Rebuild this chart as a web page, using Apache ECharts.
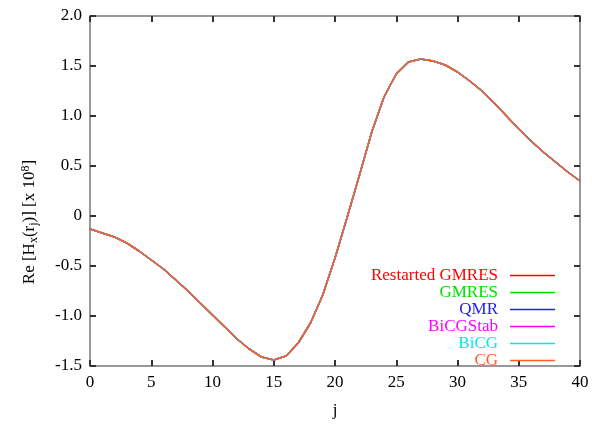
<!DOCTYPE html>
<html>
<head>
<meta charset="utf-8">
<script src="https://cdn.jsdelivr.net/npm/echarts@6/dist/echarts.min.js"></script>
<style>html,body{margin:0;padding:0;background:#fff}#c{width:592px;height:424px}</style>
</head>
<body>
<div id="c"></div>
<script>
// j indices
const jValues = [0,1,2,3,4,5,6,7,8,9,10,11,12,13,14,15,16,17,18,19,20,21,22,23,24,25,26,27,28,29,30,31,32,33,34,35,36,37,38,39,40];
// Re[Hx(rj)] x 1e8 (all solvers coincide)
const restartedGmres = [-0.13,-0.17,-0.21,-0.27,-0.35,-0.44,-0.53,-0.64,-0.75,-0.87,-0.99,-1.11,-1.23,-1.33,-1.41,-1.44,-1.40,-1.27,-1.07,-0.79,-0.42,-0.01,0.41,0.84,1.19,1.42,1.54,1.57,1.55,1.51,1.44,1.35,1.25,1.13,1.00,0.87,0.75,0.64,0.54,0.44,0.35];
const gmres    = restartedGmres.slice();
const qmr      = restartedGmres.slice();
const bicgstab = restartedGmres.slice();
const bicg     = restartedGmres.slice();
const cg       = restartedGmres.slice();

const seriesNames = ['Restarted GMRES','GMRES','QMR','BiCGStab','BiCG','CG'];
const seriesValues = [restartedGmres, gmres, qmr, bicgstab, bicg, cg];
const seriesColors = ['#ff0000','#00e000','#2020ff','#ff00ff','#00e8e8','#ff6020'];

const font = 'Liberation Serif';
const chart = echarts.init(document.getElementById('c'), null, {renderer:'canvas'});

const series = seriesNames.map((n,i)=>({
  name:n, type:'line', showSymbol:false, symbol:'none',
  data: jValues.map((j,k)=>[j, seriesValues[i][k]]),
  lineStyle:{color:seriesColors[i], width:1.5},
  itemStyle:{color:seriesColors[i]},
  animation:false
}));

function tickInside(){ return {show:true, inside:true, length:6, lineStyle:{color:'#333', width:2}}; }
function axisLine(){ return {show:true, onZero:false, lineStyle:{color:'#777', width:1.5}}; }

chart.setOption({
  backgroundColor:'#fff',
  animation:false,
  grid:{left:90, right:12, top:16, bottom:56},
  legend:{
    orient:'vertical', right:32, top:262, align:'right',
    itemGap:0, itemWidth:45, itemHeight:1.5, icon:'rect',
    selectedMode:false,
    data: seriesNames.map((n,i)=>({name:n, textStyle:{color:seriesColors[i]}})),
    textStyle:{fontFamily:font, fontSize:17, width:130, align:'right', lineHeight:16.8, padding:[0,7,0,0]}
  },
  xAxis:[{
    type:'value', min:0, max:40, interval:5, position:'bottom',
    name:'j', nameLocation:'middle', nameGap:36,
    nameTextStyle:{fontFamily:font, fontSize:17, color:'#000'},
    axisLine:axisLine(), axisTick:tickInside(), splitLine:{show:false},
    axisLabel:{fontFamily:font, fontSize:17, color:'#000', margin:8}
  },{
    type:'value', min:0, max:40, interval:5, position:'top',
    axisLine:axisLine(), axisTick:tickInside(), splitLine:{show:false},
    axisLabel:{show:false}
  }],
  yAxis:[{
    type:'value', min:-1.5, max:2.0, interval:0.5, position:'left',
    axisLine:axisLine(), axisTick:tickInside(), splitLine:{show:false},
    axisLabel:{fontFamily:font, fontSize:17, color:'#000', margin:8,
      formatter:v=> Math.abs(v)<1e-9 ? '0' : v.toFixed(1)}
  },{
    type:'value', min:-1.5, max:2.0, interval:0.5, position:'right',
    axisLine:axisLine(), axisTick:tickInside(), splitLine:{show:false},
    axisLabel:{show:false}
  }],
  graphic:[{
    type:'text', x:30, y:222, rotation:Math.PI/2,
    style:{
      text:'Re [H{sub|x}(r{sub|j})] [x 10{sup|8}]',
      font:'17px "Liberation Serif"', fill:'#000',
      align:'center', verticalAlign:'middle',
      rich:{
        sub:{fontFamily:font, fontSize:12, verticalAlign:'bottom', padding:[6,0,0,0], fill:'#000'},
        sup:{fontFamily:font, fontSize:12, verticalAlign:'top', padding:[0,0,8,0], fill:'#000'}
      }
    }
  }],
  series: series
});
</script>
</body>
</html>
